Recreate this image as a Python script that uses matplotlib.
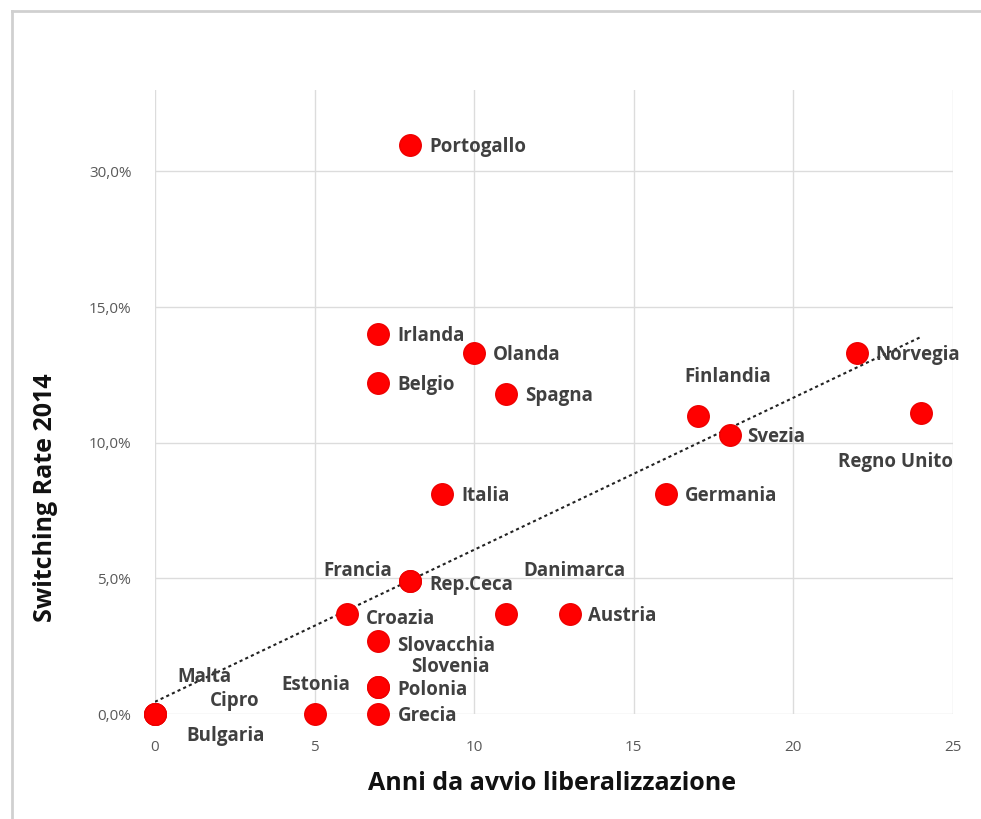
import numpy as np
import matplotlib
matplotlib.use("Agg")
import matplotlib.pyplot as plt
from matplotlib.lines import Line2D

plt.rcParams['font.family'] = ['Open Sans', 'DejaVu Sans']

# data
paesi = ['Portogallo', 'Irlanda', 'Olanda', 'Belgio', 'Spagna', 'Finlandia',
         'Svezia', 'Norvegia', 'Regno Unito', 'Italia', 'Germania', 'Francia',
         'Rep.Ceca', 'Croazia', 'Danimarca', 'Austria', 'Slovacchia',
         'Slovenia', 'Polonia', 'Grecia', 'Estonia', 'Malta', 'Cipro', 'Bulgaria']
anni = [8, 7, 10, 7, 11, 17, 18, 22, 24, 9, 16, 8, 8, 6, 11, 13, 7, 7, 7, 7, 5, 0, 0, 0]
switching = [32.9, 14.0, 13.3, 12.2, 11.8, 11.0, 10.3, 13.3, 11.1, 8.1, 8.1, 4.9,
             4.9, 3.7, 3.7, 3.7, 2.7, 1.0, 1.0, 0.0, 0.0, 0.0, 0.0, 0.0]
trend_x = [0, 24]
trend_y = [0.45, 13.9]
yticks = [0, 5, 10, 15, 30]
xticks = [0, 5, 10, 15, 20, 25]

# label placement (offset in pixels from point, alignment)
pos = {
    'Portogallo': (19, -2, 'left'), 'Irlanda': (19, -2, 'left'),
    'Olanda': (19, -2, 'left'), 'Belgio': (19, -2, 'left'),
    'Spagna': (19, -2, 'left'), 'Finlandia': (30, 39, 'center'),
    'Svezia': (18, -2, 'left'), 'Norvegia': (18, -2, 'left'),
    'Regno Unito': (-26, -49, 'center'), 'Italia': (19, -2, 'left'),
    'Germania': (19, -2, 'left'), 'Francia': (-53, 10, 'center'),
    'Rep.Ceca': (19, -4, 'left'), 'Croazia': (19, -5, 'left'),
    'Danimarca': (68, 43, 'center'), 'Austria': (18, -2, 'left'),
    'Slovacchia': (19, -5, 'left'), 'Slovenia': (72, 20, 'center'),
    'Polonia': (19, -3, 'left'), 'Grecia': (19, -2, 'left'),
    'Estonia': (1, 29, 'center'), 'Malta': (49, 37, 'center'),
    'Cipro': (80, 13, 'center'), 'Bulgaria': (71, -22, 'center'),
}


# broken y scale: above 15% compressed by 3
def fwd(y):
    y = np.asarray(y, dtype=float)
    return np.where(y <= 15, y, 15 + (y - 15) / 3.0)


def inv(y):
    y = np.asarray(y, dtype=float)
    return np.where(y <= 15, y, 15 + (y - 15) * 3.0)


fig = plt.figure(figsize=(9.81, 8.19), dpi=100)
ax = fig.add_axes([155 / 981, 1 - 714 / 819, 798 / 981, 624 / 819])
ax.set_yscale('function', functions=(fwd, inv))
ax.set_xlim(0, 25)
ax.set_ylim(0, 39)

ax.set_xticks(xticks)
ax.set_yticks(yticks)
ax.set_yticklabels([f'{v:.1f}%'.replace('.', ',') for v in yticks])
ax.tick_params(length=0, labelsize=11, labelcolor='#595959')
ax.tick_params(axis='x', pad=19)
ax.tick_params(axis='y', pad=17)
ax.grid(True, color='#dcdcdc', lw=1)
ax.set_axisbelow(True)
for s in ax.spines.values():
    s.set_visible(False)

ax.plot(trend_x, trend_y, ls=(0, (1.5, 1.5)), color='#222222', lw=1.5, zorder=2)
ax.plot(anni, switching, 'o', ms=15.5, color='#ff0000', mec='#ee0000', zorder=3,
        clip_on=False)

for p, x, y in zip(paesi, anni, switching):
    dx, dy, ha = pos[p]
    ax.annotate(p, (x, y), xytext=(dx, dy), textcoords='offset pixels',
                ha=ha, va='center', fontsize=13.5, fontweight='bold',
                color='#404040', zorder=4)

ax.set_xlabel('Anni da avvio liberalizzazione', fontsize=18, fontweight='bold',
              color='#111111')
ax.xaxis.set_label_coords(0.4975, -0.091)
ax.set_ylabel('Switching Rate 2014', fontsize=18, fontweight='bold',
              color='#111111')
ax.yaxis.set_label_coords(-0.1215, 0.346)

# outer frame
fig.add_artist(Line2D([12 / 981, 1], [1 - 11 / 819] * 2, color='#d0d0d0', lw=2))
fig.add_artist(Line2D([12 / 981] * 2, [0, 1 - 11 / 819], color='#d0d0d0', lw=2))

fig.savefig('out.png', dpi=100)
